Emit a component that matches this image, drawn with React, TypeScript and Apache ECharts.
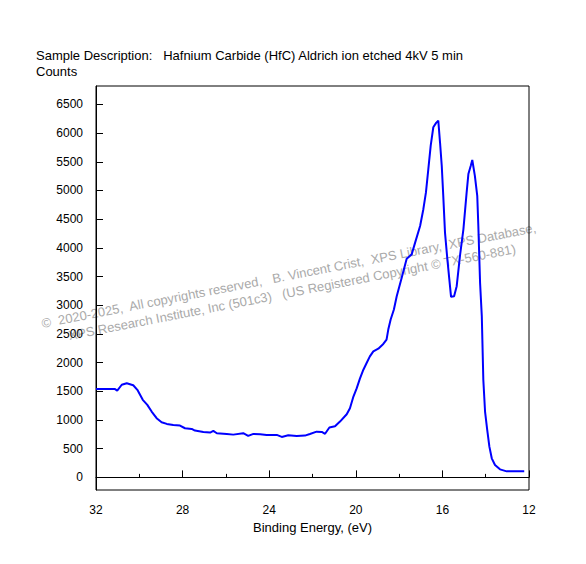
import React, { useEffect, useRef } from "react";
import * as echarts from "echarts";

const titleText = "Sample Description:   Hafnium Carbide (HfC) Aldrich ion etched 4kV 5 min";
const yAxisTitle = "Counts";
const xAxisTitle = "Binding Energy, (eV)";
const watermark1 = "©  2020-2025,  All copyrights reserved,   B. Vincent Crist,  XPS Library,  XPS Database,";
const watermark2 = "XPS Research Institute, Inc (501c3)   (US Registered Copyright © TX-560-881)";

const energies = [
  32.0, 31.6, 31.12, 31.02, 30.81, 30.58, 30.28, 30.09, 29.84, 29.63, 29.43, 29.2, 28.97, 28.73,
  28.43, 28.12, 27.89, 27.58, 27.43, 27.04, 26.73, 26.58, 26.42, 25.96, 25.66, 25.2, 24.97, 24.73,
  24.42, 24.12, 23.65, 23.42, 23.12, 22.73, 22.35, 22.12, 21.81, 21.57, 21.42, 21.22, 20.96, 20.73,
  20.42, 20.27, 20.11, 19.96, 19.81, 19.65, 19.5, 19.35, 19.19, 18.96, 18.73, 18.58, 18.5, 18.39,
  18.24, 18.11, 17.88, 17.65, 17.42, 17.26, 17.03, 16.88, 16.76, 16.65, 16.54, 16.42, 16.29, 16.19,
  16.11, 16.03, 15.96, 15.88, 15.77, 15.68, 15.6, 15.46, 15.34, 15.19, 15.03, 14.88, 14.8, 14.69,
  14.62, 14.5, 14.39, 14.34, 14.26, 14.18, 14.11, 14.03, 13.93, 13.83, 13.72, 13.57, 13.34, 13.03,
  12.22,
];

const counts = [
  1540, 1540, 1538, 1512, 1614, 1640, 1605, 1526, 1351, 1264, 1147, 1031, 961, 932,
  914, 902, 856, 844, 815, 792, 780, 809, 769, 757, 745, 769, 722, 757,
  751, 740, 740, 705, 734, 722, 728, 757, 797, 792, 760, 870, 890, 972,
  1100, 1206, 1409, 1550, 1720, 1876, 1993, 2108, 2196, 2243, 2325, 2400, 2575, 2750,
  2925, 3157, 3479, 3811, 3886, 4091, 4381, 4673, 4965, 5372, 5780, 6101, 6177, 6217,
  5839, 5430, 4906, 4266, 3799, 3449, 3147, 3157, 3332, 3857, 4323, 4965, 5285, 5430,
  5530, 5255, 4906, 4381, 3392, 2808, 1701, 1147, 827, 535, 332, 215, 140, 105,
  105,
];

const yTicks = [0, 500, 1000, 1500, 2000, 2500, 3000, 3500, 4000, 4500, 5000, 5500, 6000, 6500];

const FONT = "Arial, 'Liberation Sans', sans-serif";

export default function App() {
  const ref = useRef<HTMLDivElement>(null);

  useEffect(() => {
    document.body.style.margin = "0";
    if (!ref.current) return;
    const chart = echarts.init(ref.current, null, { renderer: "svg" });
    const data = energies.map((e, i) => [e, counts[i]]);
    chart.setOption({
      animation: false,
      backgroundColor: "#ffffff",
      grid: {
        left: 96,
        top: 86,
        width: 433,
        height: 404,
        show: true,
        borderColor: "#000",
        borderWidth: 1,
        containLabel: false,
      },
      xAxis: {
        type: "value",
        min: 12,
        max: 32,
        interval: 4,
        inverse: true,
        name: xAxisTitle,
        nameLocation: "middle",
        nameGap: 29,
        nameTextStyle: { color: "#000", fontSize: 13, fontFamily: FONT },
        axisLine: { show: true, lineStyle: { color: "#000", width: 1 } },
        axisTick: { show: true, inside: true, length: 7, lineStyle: { color: "#000" } },
        minorTick: { show: true, splitNumber: 2, length: 3.5, lineStyle: { color: "#000" } },
        axisLabel: {
          color: "#000",
          fontSize: 12,
          fontFamily: FONT,
          margin: 14,
          formatter: (v: number) => String(v),
        },
        splitLine: { show: false },
        minorSplitLine: { show: false },
      },
      yAxis: {
        type: "value",
        min: -220,
        max: 6820,
        axisLine: { show: true, lineStyle: { color: "#000", width: 1 } },
        axisTick: {
          show: true,
          inside: true,
          length: 7,
          customValues: yTicks,
          lineStyle: { color: "#000" },
        },
        axisLabel: {
          color: "#000",
          fontSize: 12,
          fontFamily: FONT,
          margin: 13,
          customValues: yTicks,
          formatter: (v: number) => String(v),
        },
        splitLine: { show: false },
      },
      graphic: [
        {
          type: "text",
          x: 36,
          y: 55,
          style: {
            text: titleText,
            fill: "#000",
            fontSize: 13,
            fontFamily: FONT,
            align: "left",
            verticalAlign: "middle",
          },
        },
        {
          type: "text",
          x: 36,
          y: 71,
          style: {
            text: yAxisTitle,
            fill: "#000",
            fontSize: 13,
            fontFamily: FONT,
            align: "left",
            verticalAlign: "middle",
          },
        },
        {
          type: "text",
          x: 43,
          y: 330,
          rotation: 0.192,
          z: -1,
          style: {
            text: watermark1,
            fill: "#aaaaaa",
            fontSize: 13,
            fontFamily: FONT,
            align: "left",
            verticalAlign: "bottom",
          },
        },
        {
          type: "text",
          x: 70,
          y: 342,
          rotation: 0.192,
          z: -1,
          style: {
            text: watermark2,
            fill: "#aaaaaa",
            fontSize: 13,
            fontFamily: FONT,
            align: "left",
            verticalAlign: "bottom",
          },
        },
      ],
      series: [
        {
          type: "line",
          data,
          showSymbol: false,
          symbol: "none",
          lineStyle: { color: "#0000ff", width: 2 },
          itemStyle: { color: "#0000ff" },
          z: 3,
        },
      ],
    });
    return () => chart.dispose();
  }, []);

  return <div ref={ref} style={{ width: 586, height: 564 }} />;
}
